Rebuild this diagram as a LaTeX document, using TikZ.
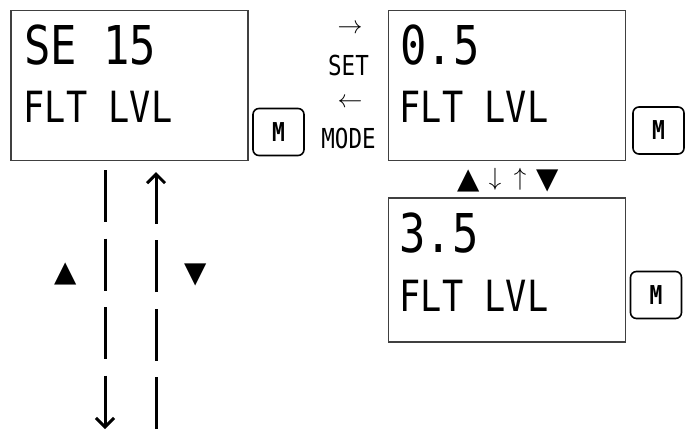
\documentclass[tikz,border=0pt]{standalone}
\usepackage{fontspec}
\usetikzlibrary{arrows.meta}
\newfontfamily\lcdfont[FakeStretch=0.82]{DejaVu Sans Mono}
\newfontfamily\symfont{DejaVu Sans}
\tikzset{
	lcdbox/.style={draw=black!75, line width=1.3pt, minimum width=237pt, minimum height=150pt, inner sep=0pt},
	keybox/.style={draw, line width=1.6pt, rounded corners=6pt, minimum width=51pt, minimum height=47pt, inner sep=0pt, font=\lcdfont\bfseries\fontsize{26}{26}\selectfont},
	bigline/.style={anchor=base west, inner sep=0pt, font=\lcdfont\fontsize{53.5}{54}\selectfont},
	smallline/.style={anchor=base west, inner sep=0pt, font=\lcdfont\fontsize{43}{44}\selectfont},
	keylabel/.style={anchor=base, inner sep=0pt, font=\lcdfont\fontsize{27.5}{28}\selectfont},
	arrowsign/.style={inner sep=0pt, font=\fontsize{26}{26}\selectfont},
	triangle/.style={inner sep=0pt, font=\symfont\fontsize{29}{29}\selectfont},
	pathline/.style={line width=3pt, dash pattern=on 52pt off 16.5pt, arrows={-Straight Barb[length=9pt, width=18pt]}}
}
\begin{document}
\begin{tikzpicture}[x=1pt, y=-1pt]
	\useasboundingbox (0,0) rectangle (687,429);
	% current value screen
	\node[lcdbox] (seBox) at (129.5,85.5) {};
	\node[bigline] (seTop) at (24,64) {SE 15};
	\node[smallline] (seBot) at (23.5,122) {FLT LVL};
	\node[keybox] (mKeyA) at (278.5,132) {M};
	% SET / MODE between the screens
	\node[arrowsign] (setArrow) at (350,29) {$\rightarrow$};
	\node[keylabel] (setLabel) at (348.5,75) {SET};
	\node[arrowsign] (modeArrow) at (350,103) {$\leftarrow$};
	\node[keylabel] (modeLabel) at (348.5,148) {MODE};
	% setting screens
	\node[lcdbox] (lvlBox) at (507,85.5) {};
	\node[bigline] (lvlTop) at (400,64) {0.5};
	\node[smallline] (lvlBot) at (399.5,122) {FLT LVL};
	\node[keybox] (mKeyB) at (658.5,130.5) {M};
	\node[triangle] (upB) at (468.5,181) {▲};
	\node[arrowsign] (downB) at (495,179) {$\downarrow$};
	\node[arrowsign] (riseB) at (520,179) {$\uparrow$};
	\node[triangle] (dnB) at (547.5,181) {▼};
	\node[lcdbox, minimum height=144pt] (nextBox) at (507,270) {};
	\node[bigline] (nextTop) at (399,252) {3.5};
	\node[smallline] (nextBot) at (399.5,311) {FLT LVL};
	\node[keybox] (mKeyC) at (656,295) {M};
	% scrolling below the first screen
	\coordinate (leftTop) at (105,170);
	\coordinate (leftBot) at (105,429);
	\coordinate (rightTop) at (156,172);
	\coordinate (rightBot) at (156,429);
	\draw[pathline] (leftTop) -- (leftBot);
	\draw[pathline] (rightBot) -- (rightTop);
	\node[triangle] (upA) at (66,274) {▲};
	\node[triangle] (dnA) at (196,275) {▼};
\end{tikzpicture}
\end{document}
